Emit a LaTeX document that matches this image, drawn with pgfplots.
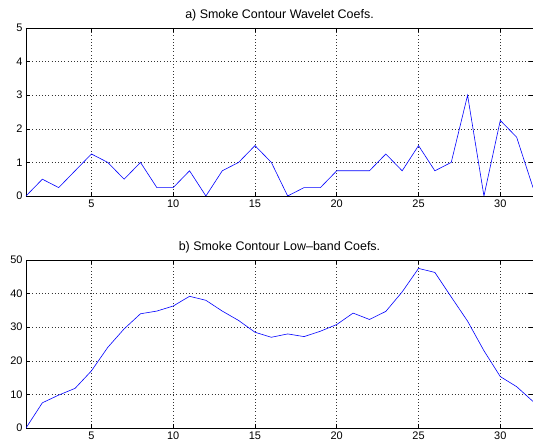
\documentclass[border=0pt]{standalone}
\usepackage{fontspec}
\setmainfont{Liberation Sans}
\usepackage{pgfplots}
\pgfplotsset{compat=1.18}

% MATLAB-like look shared by both panels
\pgfplotsset{
  matlab/.style={
    scale only axis,
    width=507bp,
    height=168bp,
    xmin=1, xmax=32,
    xtick={5,10,15,20,25,30},
    grid=major,
    major grid style={black!80, line width=0.5pt, dash pattern=on 0.6bp off 2.6bp},
    axis line style={black, line width=0.8pt},
    tick style={black, line width=0.5pt},
    tick align=inside,
    major tick length=4bp,
    tick label style={font=\fontsize{11}{13}\selectfont},
    /pgf/number format/assume math mode=true,
    title style={font=\fontsize{12.5}{14}\selectfont, yshift=-3bp},
    no markers,
  }
}

\begin{document}
\begin{tikzpicture}
\path[use as bounding box] (-26bp,-18bp) rectangle (507bp,428bp);

\begin{axis}[matlab, at={(0,232bp)}, anchor=south west,
  ymin=0, ymax=5, ytick={0,1,2,3,4,5},
  title={a) Smoke Contour Wavelet Coefs.}]
\addplot[blue, line width=0.6pt] coordinates {
(1,0) (2,0.5) (3,0.25) (4,0.75) (5,1.25) (6,1.0) (7,0.5) (8,1.0)
(9,0.25) (10,0.25) (11,0.75) (12,0) (13,0.75) (14,1.0) (15,1.5) (16,1.0)
(17,0) (18,0.25) (19,0.25) (20,0.75) (21,0.75) (22,0.75) (23,1.25) (24,0.75)
(25,1.5) (26,0.75) (27,1.0) (28,3.0) (29,0) (30,2.25) (31,1.75) (32,0.25)
};
\end{axis}

\begin{axis}[matlab, at={(0,0)}, anchor=south west,
  ymin=0, ymax=50, ytick={0,10,20,30,40,50},
  title={b) Smoke Contour Low{\textendash}band Coefs.}]
\addplot[blue, line width=0.6pt] coordinates {
(1,0) (2,7.5) (3,9.8) (4,11.8) (5,17) (6,24) (7,29.5) (8,34)
(9,34.8) (10,36.3) (11,39.2) (12,38) (13,34.8) (14,32) (15,28.5) (16,27)
(17,28) (18,27.2) (19,28.8) (20,30.8) (21,34.2) (22,32.3) (23,34.7) (24,40.5)
(25,47.5) (26,46.3) (27,39) (28,31.8) (29,23) (30,15.3) (31,12.3) (32,7.9)
};
\end{axis}
\end{tikzpicture}
\end{document}
